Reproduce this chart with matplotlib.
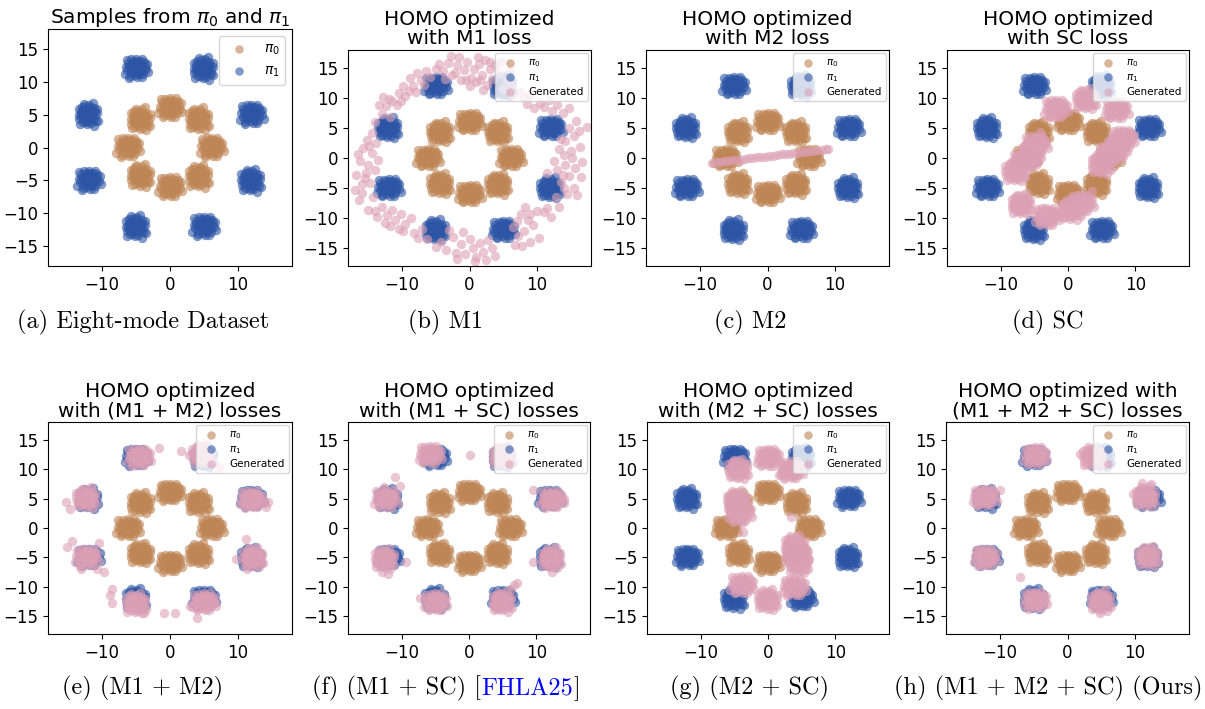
import matplotlib
matplotlib.use("Agg")
import matplotlib.pyplot as plt
import numpy as np

# colours of the three samples
c_pi0 = "#be8555"
c_pi1 = "#2c55a5"
c_gen = "#dca0b5"

# cluster centres of the two marginals
pi0_centers = [(0.0, 6.0), (4.3, 4.3), (6.1, 0.0), (4.3, -4.4),
               (0.0, -6.0), (-4.3, -4.3), (-6.2, 0.0), (-4.3, 4.3)]
pi1_centers = [(-5.0, 12.0), (5.0, 12.0), (12.0, 5.0), (12.0, -5.0),
               (5.0, -12.0), (-5.0, -12.0), (-12.0, -5.0), (-12.0, 5.0)]

# shape of one blob (offsets from the centre)
blob = [(0.0, 0.0), (0.4, 0.2), (-0.3, 0.5), (0.6, -0.4), (-0.5, -0.3),
        (0.2, -0.7), (-0.1, 0.9), (0.9, 0.3), (-0.9, 0.1), (0.3, 0.6),
        (-0.6, 0.7), (0.7, 0.8), (-0.8, -0.7), (0.5, -0.9), (-0.2, -1.0),
        (1.1, -0.2), (-1.1, 0.4), (0.1, 1.2), (1.0, -0.8), (-0.4, 1.1),
        (1.3, 0.5), (-1.3, -0.3), (0.6, 1.1), (-0.9, -1.1), (0.2, -1.3),
        (1.2, 1.0), (-1.2, 0.9), (1.5, -0.1), (-1.5, 0.2), (0.0, 1.5),
        (0.8, -1.3), (-0.7, 1.4), (1.6, 0.7), (-1.0, -1.4), (0.3, 0.2),
        (-0.2, -0.3), (0.5, -0.2), (-0.4, 0.1), (0.1, -0.5), (-0.1, 0.4),
        (1.8, -0.6), (-1.7, -0.8), (0.9, 1.5), (-1.4, 1.3)]

# (b) M1: ring of generated points
gen_m1 = [(-4.0, 14.5), (-3.2, 15.8), (-2.8, 17.0), (-2.2, 14.2), (-1.8, 15.5), (-1.2, 13.0),
          (-0.8, 14.6), (-0.3, 16.0), (0.2, 13.4), (0.6, 14.8), (1.0, 12.6), (1.4, 15.7),
          (1.9, 13.8), (2.3, 16.3), (2.6, 12.2), (3.0, 14.9), (3.4, 13.2), (3.8, 15.5),
          (-3.6, 13.2), (0.0, 12.0), (2.0, 11.4), (-1.5, 16.8), (1.2, 16.9),
          (-5.0, 14.8), (-5.8, 13.5), (-6.5, 14.5), (-7.2, 13.0), (-7.8, 14.2), (-8.3, 12.0),
          (-9.0, 11.2), (-9.6, 10.4), (-10.2, 9.5), (-10.8, 8.8), (-8.8, 13.3), (-9.8, 12.0),
          (-11.5, 9.5), (-12.3, 8.6), (-13.0, 7.3), (-11.8, 6.8), (-13.4, 8.8), (-12.8, 10.2),
          (-14.5, 4.2), (-15.2, 3.0), (-13.8, 2.5), (-15.8, 1.6), (-14.4, 0.8), (-16.2, -0.5),
          (-15.0, -1.2), (-14.0, -2.0), (-16.8, -2.8), (-15.5, -3.4), (-14.8, -4.2), (-17.0, -5.3),
          (-16.0, -5.8), (-15.3, -2.5), (-14.3, -6.5), (-13.5, -0.3),
          (-15.0, -8.6), (-14.0, -8.8), (-13.0, -8.2), (-12.2, -9.5), (-11.5, -8.7), (-11.0, -10.3),
          (-10.2, -9.3), (-9.5, -11.0), (-8.6, -10.0), (-8.2, -12.5), (-9.8, -12.2), (-12.5, -10.8),
          (-7.0, -11.8), (-6.3, -13.5), (-4.2, -14.0), (-3.5, -15.3), (-2.5, -13.2), (-2.0, -15.8),
          (-3.0, -12.0), (-1.2, -14.3), (-0.6, -16.0), (0.0, -13.5), (0.5, -15.0), (1.0, -16.5),
          (1.6, -14.2), (2.0, -15.6), (2.4, -17.0), (2.8, -13.6), (3.3, -15.0), (-1.0, -12.3),
          (6.5, -11.5), (7.2, -13.0), (6.8, -14.5), (8.0, -12.2), (8.6, -10.3), (7.6, -9.3),
          (8.2, -8.2), (9.4, -11.2), (10.3, -13.3), (9.0, -14.0), (10.0, -8.8), (11.0, -9.0),
          (11.5, -8.3), (13.2, -8.2), (12.8, -6.5), (14.5, -6.0), (15.5, -5.0), (13.5, -4.0),
          (14.8, -3.0), (16.5, -3.2), (13.0, -2.0), (14.2, -1.2), (15.6, -1.6), (12.5, -0.5),
          (14.0, 0.5), (15.2, 0.0), (13.2, 1.5), (16.3, 1.8), (11.5, -2.5),
          (14.2, 2.8), (15.5, 3.6), (16.2, 4.5), (14.8, 5.0), (17.4, 5.2), (13.5, 3.2),
          (13.8, 7.5), (14.8, 8.3), (12.2, 7.8), (11.0, 8.5),
          (6.5, 10.5), (7.5, 11.0), (8.5, 9.0), (9.5, 8.3), (10.5, 9.2), (8.0, 10.2),
          (6.3, 12.0), (5.0, 11.5), (5.5, 13.0), (4.3, 14.2),
          # second pass, the ring is thick and dense
          (-2.6, 13.8), (-0.5, 13.0), (1.5, 13.0), (3.0, 16.0), (-4.5, 15.6), (-6.8, 12.2),
          (-8.0, 11.0), (-10.5, 10.8), (-12.0, 9.8), (-14.0, 6.0), (-14.9, 2.0), (-16.5, 0.6),
          (-15.9, -4.4), (-16.3, -7.0), (-13.7, -9.8), (-11.8, -11.3), (-10.5, -11.8),
          (-7.6, -13.3), (-5.0, -14.8), (-1.8, -16.8), (0.8, -17.2), (3.8, -16.3),
          (7.8, -14.6), (9.0, -9.3), (7.0, -10.5), (12.0, -9.8), (14.0, -5.0), (15.9, -6.2),
          (13.8, -2.8), (15.0, 1.2), (16.6, -0.6), (15.8, 6.2), (13.0, 8.8), (9.0, 10.5),
          (11.8, 9.6), (6.0, 14.5), (4.6, 16.0)]

# (c) M2: generated points collapse onto a line
gen_m2 = [(-8.2, -0.8), (-7.6, -0.7), (-7.0, -0.6), (-6.4, -0.55), (-5.8, -0.45), (-5.2, -0.4),
          (-4.6, -0.3), (-4.0, -0.25), (-3.4, -0.15), (-2.8, -0.05), (-2.2, 0.0), (-1.6, 0.1),
          (-1.0, 0.2), (-0.4, 0.25), (0.2, 0.35), (0.8, 0.4), (1.4, 0.5), (2.0, 0.6),
          (2.6, 0.65), (3.2, 0.75), (3.8, 0.8), (4.4, 0.9), (5.0, 1.0), (5.6, 1.05),
          (6.2, 1.15), (6.8, 1.2), (7.4, 1.3), (8.0, 1.4), (8.6, 1.45), (9.0, 1.5)]

# (d) SC: generated blob centres and stray points
gen_sc_centers = [(-1.8, 8.2), (2.7, 9.8), (7.2, 8.0), (5.0, -1.0), (6.2, 0.6), (7.4, 2.0),
                  (8.2, 3.2), (-7.8, -2.2), (-6.6, -0.6), (-5.4, 1.0), (-4.8, 2.2),
                  (-6.9, -7.7), (-3.2, -9.8), (0.5, -8.6), (2.0, -7.6)]
gen_sc_extra = [(-4.2, 4.3), (9.1, 4.3), (6.0, 7.0), (-2.5, 6.8), (3.5, -5.5)]

# (e) M1 + M2
gen_m1m2_centers = [(-4.6, 12.0), (4.8, 12.5), (12.0, 4.8), (12.3, -5.0),
                    (5.0, -12.6), (-5.0, -12.8), (-12.3, -5.0), (-12.3, 5.1)]
gen_m1m2_extra = [(-1.6, 13.6), (1.6, 13.0), (2.8, 12.4), (7.2, 10.3), (-15.4, 4.4), (-14.7, 3.3),
                  (-15.2, -3.3), (-14.4, -2.2), (-10.5, -2.5), (-9.8, -7.5), (-10.7, -7.0),
                  (-13.2, -7.0), (-8.5, -10.3), (-8.8, -11.4), (-8.5, -12.8), (-3.8, -14.4),
                  (-0.9, -14.4), (0.8, -14.4), (3.0, -13.3), (4.0, -15.3), (6.5, -12.8),
                  (14.1, 3.6), (14.4, 4.4), (11.2, -1.9), (9.7, -5.3), (13.4, -5.8), (11.4, -6.9)]

# (f) M1 + SC
gen_m1sc_centers = [(-5.8, 12.4), (5.0, 12.2), (-12.4, 4.9), (-12.5, -5.2),
                    (12.3, 4.8), (12.3, -5.1), (-5.0, -12.6), (5.0, -12.5)]
gen_m1sc_extra = [(0.1, 12.4), (-11.0, 8.6), (-12.7, 6.9), (-10.2, 7.2), (-13.0, -7.5),
                  (-12.0, -7.8), (-9.3, -5.8), (9.5, 6.4), (14.1, 5.0), (9.5, -5.8),
                  (12.4, -7.5), (-7.3, -11.9), (6.7, -9.7), (7.2, -9.4), (6.3, -10.3)]

# (g) M2 + SC
gen_m2sc_centers = [(0.0, 11.9), (-4.4, 10.0), (3.4, 9.8), (-4.6, 4.6), (-4.2, 2.5),
                    (4.0, -3.0), (4.3, -4.6), (4.6, -6.0), (-3.9, -9.7), (0.0, -12.2),
                    (3.9, -10.1)]
gen_m2sc_extra = [(-3.7, -0.6), (-3.9, 0.8), (3.4, -1.9), (3.4, 1.9), (2.0, 9.0)]

# (h) M1 + M2 + SC (ours)
gen_all_centers = [(-4.8, 12.2), (3.8, 12.1), (-12.3, 5.2), (11.6, 5.3),
                   (-12.2, -5.0), (12.0, -4.8), (-4.8, -12.3), (5.0, -12.4)]
gen_all_extra = [(1.8, 12.6), (-10.0, 6.4), (9.7, 5.8), (11.1, 7.6), (12.4, 7.4),
                 (-12.7, -6.4), (-7.1, -8.3), (4.8, -14.4), (-13.5, 4.0)]

titles = ["Samples from $\\pi_0$ and $\\pi_1$",
          "HOMO optimized\nwith M1 loss",
          "HOMO optimized\nwith M2 loss",
          "HOMO optimized\nwith SC loss",
          "HOMO optimized\nwith (M1 + M2) losses",
          "HOMO optimized\nwith (M1 + SC) losses",
          "HOMO optimized\nwith (M2 + SC) losses",
          "HOMO optimized with\n(M1 + M2 + SC) losses"]
captions = ["(a) Eight-mode Dataset", "(b) M1", "(c) M2", "(d) SC",
            "(e) (M1 + M2)", "(f) (M1 + SC) [", "(g) (M2 + SC)",
            "(h) (M1 + M2 + SC) (Ours)"]


def cloud(centers):
    b = np.array(blob)
    pts = []
    for i, (cx, cy) in enumerate(centers):
        off = b if i % 2 == 0 else b[:, ::-1] * [-1, 1]
        pts.append(off + [cx, cy])
    return np.vstack(pts)


def pts(lst):
    return np.array(lst)


generated = [None,
             pts(gen_m1),
             pts(gen_m2),
             np.vstack([cloud(gen_sc_centers), pts(gen_sc_extra)]),
             np.vstack([cloud(gen_m1m2_centers), pts(gen_m1m2_extra)]),
             np.vstack([cloud(gen_m1sc_centers), pts(gen_m1sc_extra)]),
             np.vstack([cloud(gen_m2sc_centers), pts(gen_m2sc_extra)]),
             np.vstack([cloud(gen_all_centers), pts(gen_all_extra)])]

W, H = 1205, 709
fig = plt.figure(figsize=(W / 100, H / 100), dpi=100)

# axes boxes in pixels: left, top, width, height
boxes = [(48, 29, 244, 237), (348, 50, 243, 216), (646, 50, 243, 216), (947, 50, 242, 216),
         (48, 422, 244, 212), (348, 422, 242, 212), (647, 422, 242, 212), (946, 422, 243, 212)]
cap_x = [143, 446, 750, 1048, 143, 446, 750, 1048]
cap_y = [322, 322, 322, 322, 688, 688, 688, 688]

p0 = cloud(pi0_centers)
p1 = cloud(pi1_centers)
ms = 46
cap_fs = 17.5

for k in range(8):
    l, t, w, h = boxes[k]
    ax = fig.add_axes([l / W, 1 - (t + h) / H, w / W, h / H])
    ax.scatter(p0[:, 0], p0[:, 1], s=ms, color=c_pi0, alpha=0.6, lw=0, label="$\\pi_0$")
    ax.scatter(p1[:, 0], p1[:, 1], s=ms, color=c_pi1, alpha=0.6, lw=0, label="$\\pi_1$")
    if generated[k] is not None:
        g = generated[k]
        ax.scatter(g[:, 0], g[:, 1], s=ms, color=c_gen, alpha=0.6, lw=0, label="Generated")
        ax.legend(loc="upper right", fontsize=7.5, handletextpad=0.8,
                  borderaxespad=0.3, labelspacing=0.3, markerscale=0.9)
    else:
        ax.legend(loc="upper right", fontsize=10, handletextpad=0.8,
                  borderaxespad=0.5, markerscale=0.9)
    ax.set_xlim(-18, 18)
    ax.set_ylim(-18, 18)
    ax.set_xticks([-10, 0, 10])
    ax.set_yticks([-15, -10, -5, 0, 5, 10, 15])
    ax.tick_params(labelsize=12)
    ax.set_title(titles[k], fontsize=14.5, linespacing=1.0, pad=4)

    txt = fig.text(cap_x[k] / W, 1 - cap_y[k] / H, captions[k], fontsize=cap_fs,
                   family="cmr10", ha="center", va="center")
    if k == 5:
        a1 = ax.annotate("FHLA25", xy=(1, 0), xycoords=txt, fontsize=cap_fs,
                         family="cmr10", color="blue", va="bottom", ha="left",
                         annotation_clip=False)
        a2 = ax.annotate("]", xy=(1, 0), xycoords=a1, fontsize=cap_fs, family="cmr10",
                         va="bottom", ha="left", annotation_clip=False)
        # centre the three pieces together
        fig.canvas.draw()
        r = fig.canvas.get_renderer()
        x0 = txt.get_window_extent(r).x0
        x1 = a2.get_window_extent(r).x1
        shift = (x1 - x0) / 2 - txt.get_window_extent(r).width / 2
        txt.set_x((cap_x[k] - shift) / W)

fig.savefig("out.png", dpi=100)
